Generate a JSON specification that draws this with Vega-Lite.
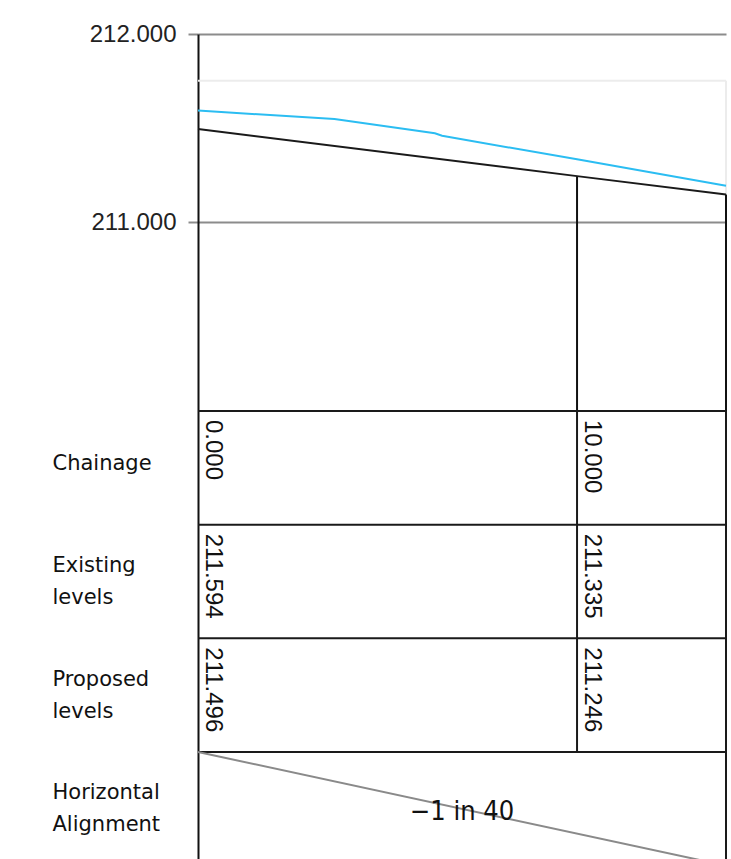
{
  "$schema": "https://vega.github.io/schema/vega-lite/v6.json",
  "width": 528,
  "height": 825,
  "autosize": {"type": "none"},
  "padding": {"left": 198, "top": 34, "right": 5, "bottom": 0},
  "background": "white",
  "config": {"view": {"stroke": null}},
  "datasets": {
    "profile": [
      {"series": "Existing", "chainage": 0, "level": 211.594},
      {"series": "Existing", "chainage": 3.6, "level": 211.549},
      {"series": "Existing", "chainage": 6.25, "level": 211.473},
      {"series": "Existing", "chainage": 6.44, "level": 211.46},
      {"series": "Existing", "chainage": 10, "level": 211.335},
      {"series": "Existing", "chainage": 13.93, "level": 211.195},
      {"series": "Proposed", "chainage": 0, "level": 211.496},
      {"series": "Proposed", "chainage": 10, "level": 211.246},
      {"series": "Proposed", "chainage": 13.93, "level": 211.148}
    ],
    "frame": [
      {"from": 0, "to": 13.93, "level": 211.752, "level2": 211.752},
      {"from": 13.93, "to": 13.93, "level": 211.752, "level2": 211.148}
    ],
    "stations": [
      {"chainage": 10, "level": 211.246, "level2": 210},
      {"chainage": 13.93, "level": 211.148, "level2": 210}
    ],
    "rowlines": [
      {"row": 0, "from": 0, "to": 13.93},
      {"row": 1, "from": 0, "to": 13.93},
      {"row": 2, "from": 0, "to": 13.93},
      {"row": 3, "from": 0, "to": 13.93}
    ],
    "cols": [
      {"chainage": 10, "row": 0, "row2": 3},
      {"chainage": 13.93, "row": 0, "row2": 4}
    ],
    "grade": [
      {"chainage": 0, "row": 3},
      {"chainage": 13.93, "row": 4}
    ],
    "cells": [
      {"chainage": 0, "row": 0, "text": "0.000"},
      {"chainage": 10, "row": 0, "text": "10.000"},
      {"chainage": 0, "row": 1, "text": "211.594"},
      {"chainage": 10, "row": 1, "text": "211.335"},
      {"chainage": 0, "row": 2, "text": "211.496"},
      {"chainage": 10, "row": 2, "text": "211.246"}
    ],
    "gradeLabel": [
      {"chainage": 6.965, "row": 3.5, "text": "−1 in 40"}
    ]
  },
  "layer": [
    {
      "layer": [
        {
          "data": {"name": "frame"},
          "mark": {"type": "rule", "color": "#ececec", "strokeWidth": 2},
          "encoding": {
            "x": {"field": "from", "type": "quantitative", "scale": {"domain": [0, 13.93], "nice": false, "zero": false}, "axis": null},
            "x2": {"field": "to"},
            "y": {
              "field": "level", "type": "quantitative",
              "scale": {"domain": [207.6233, 212], "nice": false, "zero": false},
              "axis": {
                "title": null, "values": [211, 212], "format": ".3f",
                "grid": true, "gridColor": "#8c8c8c", "gridWidth": 2,
                "tickSize": 10, "tickColor": "#8c8c8c", "tickWidth": 2,
                "domainColor": "#111111", "domainWidth": 2,
                "labelFont": "Liberation Sans", "labelFontSize": 24, "labelColor": "#222222",
                "labelPadding": 12, "labelFlush": false, "labelOverlap": false
              }
            },
            "y2": {"field": "level2"}
          }
        },
        {
          "data": {"name": "stations"},
          "mark": {"type": "rule", "color": "#111111", "strokeWidth": 2},
          "encoding": {
            "x": {"field": "chainage", "type": "quantitative", "scale": {"domain": [0, 13.93], "nice": false, "zero": false}, "axis": null},
            "y": {"field": "level", "type": "quantitative", "scale": {"domain": [207.6233, 212], "nice": false, "zero": false}},
            "y2": {"field": "level2"}
          }
        },
        {
          "data": {"name": "profile"},
          "mark": {"type": "line", "strokeWidth": 2},
          "encoding": {
            "x": {"field": "chainage", "type": "quantitative", "scale": {"domain": [0, 13.93], "nice": false, "zero": false}, "axis": null},
            "y": {"field": "level", "type": "quantitative", "scale": {"domain": [207.6233, 212], "nice": false, "zero": false}},
            "color": {"field": "series", "type": "nominal", "scale": {"domain": ["Existing", "Proposed"], "range": ["#2bbdf2", "#1a1a1a"]}, "legend": null}
          }
        }
      ]
    },
    {
      "layer": [
        {
          "data": {"name": "rowlines"},
          "mark": {"type": "rule", "color": "#1a1a1a", "strokeWidth": 2},
          "encoding": {
            "x": {"field": "from", "type": "quantitative", "scale": {"domain": [0, 13.93], "nice": false, "zero": false}, "axis": null},
            "x2": {"field": "to"},
            "y": {
              "field": "row", "type": "quantitative",
              "scale": {"domain": [-3.3167, 3.9413], "reverse": true, "nice": false, "zero": false},
              "axis": {
                "orient": "left", "title": null, "values": [0.5, 1.5, 2.5, 3.5],
                "labelExpr": "datum.value == 0.5 ? 'Chainage' : datum.value == 1.5 ? ['Existing', 'levels'] : datum.value == 2.5 ? ['Proposed', 'levels'] : ['Horizontal', 'Alignment']",
                "domain": false, "ticks": false, "grid": false,
                "labelAlign": "left", "labelBaseline": "middle", "labelPadding": 146,
                "labelOffset": {"condition": {"test": "datum.value == 0.5", "value": -4}, "value": -16},
                "labelFont": "DejaVu Sans", "labelFontSize": 21, "labelLineHeight": 32,
                "labelColor": "#111111", "labelFlush": false, "labelOverlap": false, "labelBound": false
              }
            }
          }
        },
        {
          "data": {"name": "cols"},
          "mark": {"type": "rule", "color": "#1a1a1a", "strokeWidth": 2},
          "encoding": {
            "x": {"field": "chainage", "type": "quantitative", "scale": {"domain": [0, 13.93], "nice": false, "zero": false}, "axis": null},
            "y": {"field": "row", "type": "quantitative", "scale": {"domain": [-3.3167, 3.9413], "reverse": true, "nice": false, "zero": false}},
            "y2": {"field": "row2"}
          }
        },
        {
          "data": {"name": "grade"},
          "mark": {"type": "line", "color": "#8a8a8a", "strokeWidth": 2},
          "encoding": {
            "x": {"field": "chainage", "type": "quantitative", "scale": {"domain": [0, 13.93], "nice": false, "zero": false}, "axis": null},
            "y": {"field": "row", "type": "quantitative", "scale": {"domain": [-3.3167, 3.9413], "reverse": true, "nice": false, "zero": false}}
          }
        },
        {
          "data": {"name": "cells"},
          "mark": {"type": "text", "angle": 90, "align": "left", "baseline": "alphabetic", "dx": 9, "dy": -8, "font": "Liberation Sans", "fontSize": 24, "color": "#111111"},
          "encoding": {
            "x": {"field": "chainage", "type": "quantitative", "scale": {"domain": [0, 13.93], "nice": false, "zero": false}, "axis": null},
            "y": {"field": "row", "type": "quantitative", "scale": {"domain": [-3.3167, 3.9413], "reverse": true, "nice": false, "zero": false}},
            "text": {"field": "text"}
          }
        },
        {
          "data": {"name": "gradeLabel"},
          "mark": {"type": "text", "align": "center", "baseline": "middle", "dy": 3, "font": "DejaVu Sans Condensed", "fontSize": 27, "color": "#111111"},
          "encoding": {
            "x": {"field": "chainage", "type": "quantitative", "scale": {"domain": [0, 13.93], "nice": false, "zero": false}, "axis": null},
            "y": {"field": "row", "type": "quantitative", "scale": {"domain": [-3.3167, 3.9413], "reverse": true, "nice": false, "zero": false}},
            "text": {"field": "text"}
          }
        }
      ]
    }
  ],
  "resolve": {"scale": {"y": "independent"}}
}
